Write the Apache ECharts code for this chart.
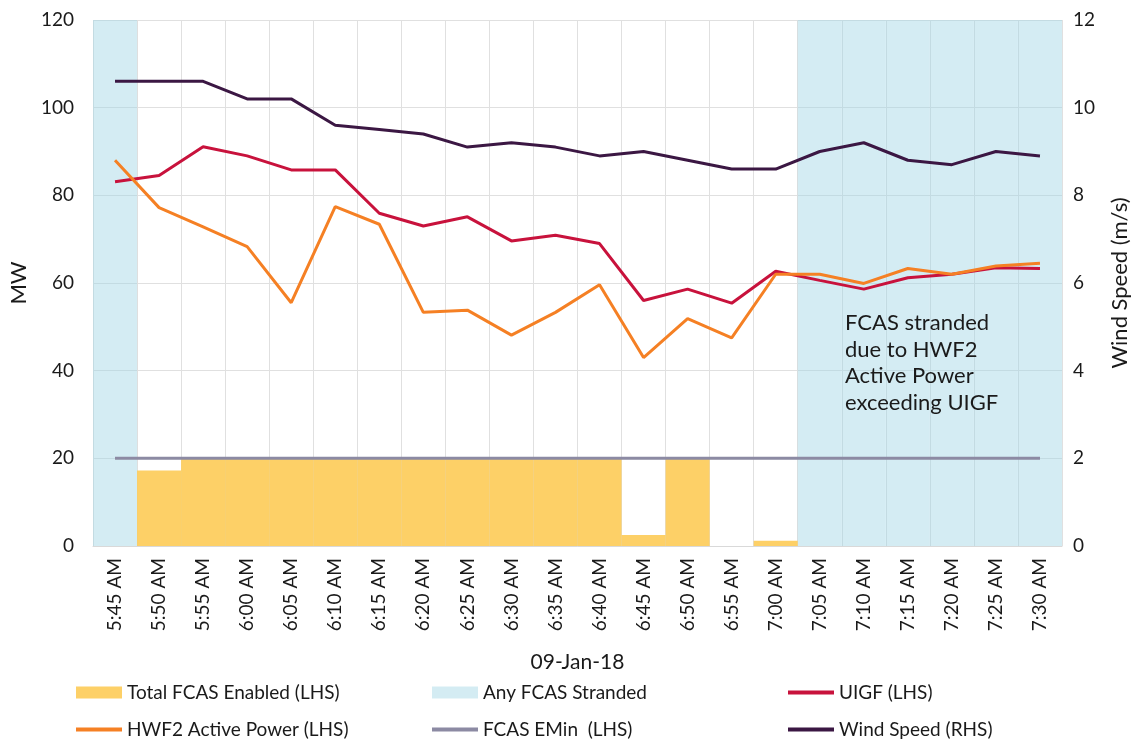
<!DOCTYPE html>
<html>
<head>
<meta charset="utf-8">
<script src="https://cdn.jsdelivr.net/npm/echarts@6/dist/echarts.min.js"></script>
<style>
  html, body { margin: 0; padding: 0; background: #fff; }
  #chart { width: 1132px; height: 742px; }
</style>
</head>
<body>
<div id="chart"></div>
<script>
const times = [
  '5:45 AM', '5:50 AM', '5:55 AM', '6:00 AM', '6:05 AM', '6:10 AM', '6:15 AM', '6:20 AM',
  '6:25 AM', '6:30 AM', '6:35 AM', '6:40 AM', '6:45 AM', '6:50 AM', '6:55 AM', '7:00 AM',
  '7:05 AM', '7:10 AM', '7:15 AM', '7:20 AM', '7:25 AM', '7:30 AM'
];
const fcasEnabled = [0, 17.2, 20, 20, 20, 20, 20, 20, 20, 20, 20, 20, 2.5, 20, 0, 1.2, 0, 0, 0, 0, 0, 0];
const stranded = [120, null, null, null, null, null, null, null, null, null, null, null, null, null, null, null, 120, 120, 120, 120, 120, 120];
const uigf = [83.1, 84.5, 91.1, 89.0, 85.8, 85.8, 75.9, 73.0, 75.1, 69.6, 70.9, 69.0, 56.0, 58.6, 55.4, 62.7, 60.6, 58.6, 61.2, 62.0, 63.5, 63.3];
const hwf2 = [88.0, 77.2, 72.8, 68.3, 55.5, 77.4, 73.4, 53.3, 53.8, 48.1, 53.3, 59.6, 43.0, 51.9, 47.5, 62.0, 62.0, 59.9, 63.3, 62.0, 63.9, 64.5];
const emin = [20, 20, 20, 20, 20, 20, 20, 20, 20, 20, 20, 20, 20, 20, 20, 20, 20, 20, 20, 20, 20, 20];
const windSpeed = [10.6, 10.6, 10.6, 10.2, 10.2, 9.6, 9.5, 9.4, 9.1, 9.2, 9.1, 8.9, 9.0, 8.8, 8.6, 8.6, 9.0, 9.2, 8.8, 8.7, 9.0, 8.9];

const font = 'Lato, "DejaVu Sans", sans-serif';
const textColor = '#1a1a1a';
const gridColor = '#e0e0e0';

const chart = echarts.init(document.getElementById('chart'));

// one legend per item so the 3x2 layout lines up like the original
const legendItem = (name, left, top, h) => ({
  data: [{ name, icon: 'rect' }],
  left, top,
  itemWidth: 46,
  itemHeight: h,
  textStyle: { fontFamily: font, fontSize: 19, color: textColor },
  selectedMode: false
});

chart.setOption({
  animation: false,
  textStyle: { fontFamily: font },
  grid: { left: 93, right: 70, top: 20, bottom: 196, outerBoundsMode: 'none' },
  legend: [
    legendItem('Total FCAS Enabled (LHS)', 71, 678, 12),
    legendItem('Any FCAS Stranded', 427, 678, 12),
    legendItem('UIGF (LHS)', 783, 678, 4),
    legendItem('HWF2 Active Power (LHS)', 71, 715, 4),
    legendItem('FCAS EMin  (LHS)', 427, 715, 4),
    legendItem('Wind Speed (RHS)', 783, 715, 4)
  ],
  xAxis: {
    type: 'category',
    data: times,
    boundaryGap: true,
    name: '09-Jan-18',
    nameLocation: 'middle',
    nameGap: 106,
    nameTextStyle: { fontFamily: font, fontSize: 21, color: textColor },
    axisLine: { show: true, lineStyle: { color: '#d9d9d9', width: 1 } },
    axisTick: { show: false },
    axisLabel: { rotate: 90, margin: 12, fontSize: 19, color: textColor, fontFamily: font },
    splitLine: { show: true, lineStyle: { color: gridColor, width: 1 } }
  },
  yAxis: [
    {
      type: 'value',
      min: 0, max: 120, interval: 20,
      name: 'MW',
      nameLocation: 'middle',
      nameGap: 58,
      nameTextStyle: { fontFamily: font, fontSize: 22, color: textColor },
      axisLine: { show: false },
      axisTick: { show: false },
      axisLabel: { margin: 19, fontSize: 19, color: textColor, fontFamily: font },
      splitLine: { show: true, lineStyle: { color: gridColor, width: 1 } }
    },
    {
      type: 'value',
      min: 0, max: 12, interval: 2,
      name: 'Wind Speed (m/s)',
      nameLocation: 'middle',
      nameGap: 47,
      nameTextStyle: { fontFamily: font, fontSize: 22, color: textColor },
      axisLine: { show: false },
      axisTick: { show: false },
      axisLabel: { margin: 11, fontSize: 19, color: textColor, fontFamily: font },
      splitLine: { show: false }
    }
  ],
  series: [
    {
      name: 'Any FCAS Stranded',
      type: 'bar',
      data: stranded,
      barCategoryGap: 0,
      barGap: '-100%',
      color: '#d4ecf3',
      itemStyle: { color: 'rgba(160, 212, 228, 0.45)' },
      z: 1
    },
    {
      name: 'Total FCAS Enabled (LHS)',
      type: 'bar',
      data: fcasEnabled,
      barCategoryGap: 0,
      barGap: '-100%',
      color: '#fdd066',
      itemStyle: { color: 'rgba(253, 204, 90, 0.92)' },
      z: 2
    },
    {
      name: 'FCAS EMin  (LHS)',
      type: 'line',
      data: emin,
      symbol: 'none',
      color: '#8c8aa3',
      lineStyle: { width: 3, color: '#8c8aa3' },
      z: 3
    },
    {
      name: 'UIGF (LHS)',
      type: 'line',
      data: uigf,
      symbol: 'none',
      color: '#c8123c',
      lineStyle: { width: 3, color: '#c8123c' },
      z: 4
    },
    {
      name: 'HWF2 Active Power (LHS)',
      type: 'line',
      data: hwf2,
      symbol: 'none',
      color: '#f58024',
      lineStyle: { width: 3, color: '#f58024' },
      z: 5
    },
    {
      name: 'Wind Speed (RHS)',
      type: 'line',
      yAxisIndex: 1,
      data: windSpeed,
      symbol: 'none',
      color: '#3b1743',
      lineStyle: { width: 3, color: '#3b1743' },
      z: 6
    }
  ],
  graphic: [
    {
      type: 'text',
      left: 845,
      top: 310,
      z: 100,
      style: {
        text: 'FCAS stranded\ndue to HWF2\nActive Power\nexceeding UIGF',
        font: '22px ' + font,
        lineHeight: 26.5,
        fill: '#1a1a1a'
      }
    }
  ]
});
</script>
</body>
</html>
